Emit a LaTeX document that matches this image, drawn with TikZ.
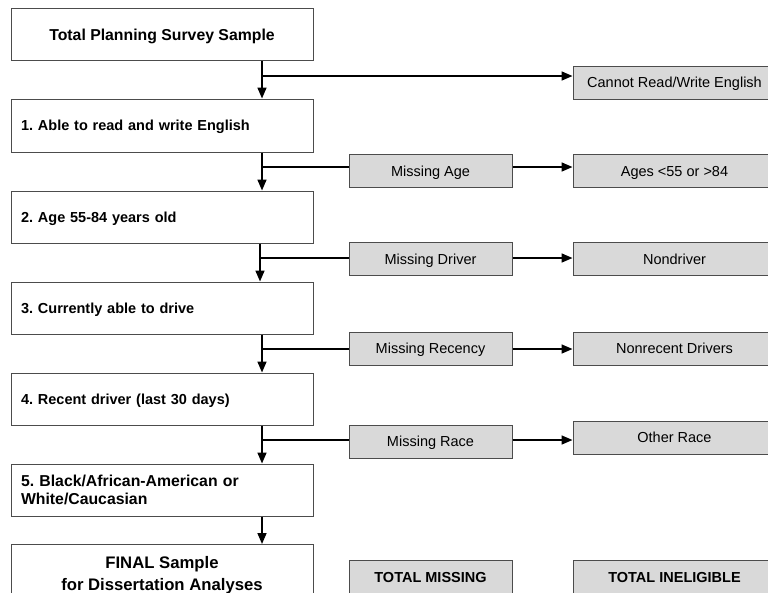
\documentclass[tikz,border=0pt]{standalone}
\usepackage{fontspec}
\setmainfont{Liberation Sans}
\usetikzlibrary{arrows.meta}
\begin{document}
\frenchspacing
\begin{tikzpicture}[x=1pt,y=-1pt,
  mainbox/.style={draw=black!70,line width=1pt,fill=white,minimum width=302pt,minimum height=52pt,inner sep=0pt,font=\fontsize{14.5}{18.7}\selectfont\bfseries},
  stepbox/.style={mainbox,text width=282pt,align=left,text height=10.4pt,text depth=0pt},
  graybox/.style={draw=black!70,line width=1pt,fill=black!15,inner sep=0pt,font=\fontsize{14.5}{18}\selectfont,text height=10.4pt,text depth=0pt},
  midbox/.style={graybox,minimum width=163pt,minimum height=33pt},
  rightbox/.style={graybox,minimum width=203pt,minimum height=33pt},
  conn/.style={line width=1.6pt,black},
  arr/.style={conn,-{Triangle[length=11pt,width=9pt]}}
]
\clip (0,0) rectangle (768,592);
\useasboundingbox (0,0) rectangle (768,592);
% main column
\node[mainbox,font=\fontsize{15.8}{18.7}\selectfont\bfseries,text height=11.3pt,text depth=0pt] (b0) at (162,34.5) {Total Planning Survey Sample};
\node[stepbox,minimum height=53pt] (b1) at (162,125.5) {1. Able to read and write English};
\node[stepbox] (b2) at (162,217) {2. Age 55-84 years old};
\node[stepbox] (b3) at (162,308) {3. Currently able to drive};
\node[stepbox] (b4) at (162,399) {4. Recent driver (last 30 days)};
\node[mainbox,text width=282pt,align=left,font=\fontsize{15.8}{18.7}\selectfont\bfseries] (b5) at (162,490) {5. Black/African-American or\\White/Caucasian};
\node[mainbox,minimum height=70pt,anchor=north] (b6) at (162,544) {};
\node[font=\fontsize{16.7}{20}\selectfont\bfseries,anchor=base] (f1) at (162,568.3) {FINAL Sample};
\node[font=\fontsize{16.7}{20}\selectfont\bfseries,anchor=base] (f2) at (162,590) {for Dissertation Analyses};
% junctions
\coordinate (j0) at (262,76);
\coordinate (j1) at (262,167);
\coordinate (j2) at (260,258);
\coordinate (j3) at (262,349);
\coordinate (j4) at (262,440);
\coordinate (j5) at (262,530);
% middle column
\node[midbox] (m1) at (430.5,171) {Missing Age};
\node[midbox] (m2) at (430.5,259) {Missing Driver};
\node[midbox] (m3) at (430.5,348.5) {Missing Recency};
\node[midbox] (m4) at (430.5,441.5) {Missing Race};
\node[midbox,minimum height=50pt,anchor=north] (mt) at (430.5,560) {};
\node[font=\fontsize{14.5}{18}\selectfont\bfseries,anchor=base] (mtt) at (430.5,582.5) {TOTAL MISSING};
% right column
\node[rightbox] (r0) at (674.5,82.5) {Cannot Read/Write English};
\node[rightbox] (r1) at (674.5,171) {Ages <55 or >84};
\node[rightbox] (r2) at (674.5,259) {Nondriver};
\node[rightbox] (r3) at (674.5,348.5) {Nonrecent Drivers};
\node[rightbox] (r4) at (674.5,437.5) {Other Race};
\node[rightbox,minimum height=50pt,anchor=north] (rt) at (674.5,560) {};
\node[font=\fontsize{14.5}{18}\selectfont\bfseries,anchor=base] (rtt) at (674.5,582.5) {TOTAL INELIGIBLE};
% vertical arrows
\draw[arr] (b0.south -| j0) -- (b1.north -| j0);
\draw[arr] (b1.south -| j1) -- (b2.north -| j1);
\draw[arr] (b2.south -| j2) -- (b3.north -| j2);
\draw[arr] (b3.south -| j3) -- (b4.north -| j3);
\draw[arr] (b4.south -| j4) -- (b5.north -| j4);
\draw[arr] (b5.south -| j5) -- (b6.north -| j5);
% branches
\draw[arr] (j0) -- (r0.west |- j0);
\draw[conn] (j1) -- (m1.west |- j1);
\draw[conn] (j2) -- (m2.west |- j2);
\draw[conn] (j3) -- (m3.west |- j3);
\draw[conn] (j4) -- (m4.west |- j4);
\draw[arr] (m1.east |- j1) -- (r1.west |- j1);
\draw[arr] (m2.east |- j2) -- (r2.west |- j2);
\draw[arr] (m3.east |- j3) -- (r3.west |- j3);
\draw[arr] (m4.east |- j4) -- (r4.west |- j4);
\end{tikzpicture}
\end{document}
